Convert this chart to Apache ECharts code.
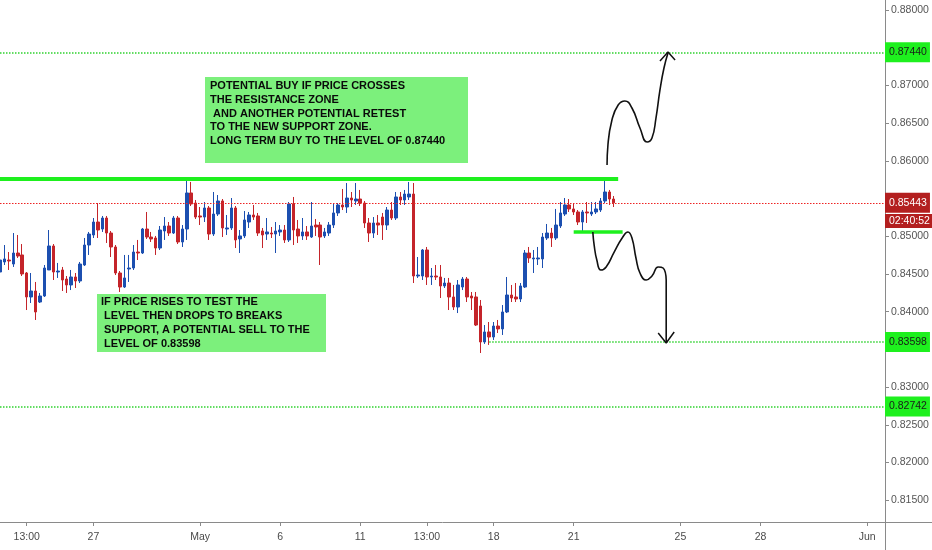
<!DOCTYPE html>
<html>
<head>
<meta charset="utf-8">
<title>Chart</title>
<script src="https://cdn.jsdelivr.net/npm/echarts@6/dist/echarts.min.js"></script>
<style>
html, body { margin: 0; padding: 0; background: #fff; }
#chart { width: 932px; height: 550px; }
</style>
</head>
<body>
<div id="chart"></div>
<script>
// 4h candles, one per slot on the time scale
var opens = [
  0.84526,0.84659,0.84685,0.84632,0.84778,0.84752,0.84513,0.84195,0.84274,0.84128,
  0.84208,0.84553,0.84871,0.84526,0.84553,0.84433,0.84354,0.84460,0.84407,0.84619,
  0.84884,0.85017,0.85189,0.85096,0.85242,0.85043,0.84858,0.84513,0.84327,0.84566,
  0.84579,0.84791,0.84778,0.85096,0.84990,0.84977,0.84844,0.85070,0.85136,0.85043,
  0.85242,0.84924,0.85096,0.85574,0.85441,0.85269,0.85255,0.85375,0.85030,0.85295,
  0.85468,0.85096,0.85110,0.85375,0.84964,0.85004,0.85189,0.85282,0.85269,0.85070,
  0.85030,0.85043,0.85030,0.85057,0.85083,0.84951,0.85428,0.85096,0.85004,0.85057,
  0.84990,0.85149,0.85149,0.85004,0.85043,0.85149,0.85309,0.85415,0.85388,0.85507,
  0.85468,0.85494,0.85441,0.85176,0.85043,0.85176,0.85255,0.85149,0.85348,0.85242,
  0.85521,0.85481,0.85521,0.85560,0.84473,0.84473,0.84818,0.84460,0.84473,0.84460,
  0.84341,0.84380,0.84195,0.84062,0.84327,0.84433,0.84208,0.84195,0.84075,0.83598,
  0.83731,0.83664,0.83810,0.83771,0.83996,0.84221,0.84195,0.84168,0.84327,0.84778,
  0.84699,0.84699,0.84699,0.84977,0.85043,0.84977,0.85136,0.85295,0.85415,0.85362,
  0.85322,0.85189,0.85322,0.85295,0.85322,0.85348,0.85468,0.85587,0.85494
];
var closes = [
  0.84685,0.84699,0.84672,0.84778,0.84738,0.84500,0.84195,0.84274,0.83996,0.84208,
  0.84579,0.84871,0.84526,0.84539,0.84420,0.84354,0.84460,0.84407,0.84632,0.84884,
  0.85030,0.85189,0.85083,0.85242,0.85043,0.84858,0.84513,0.84327,0.84447,0.84579,
  0.84791,0.84778,0.85096,0.84990,0.84964,0.84844,0.85083,0.85136,0.85043,0.85242,
  0.84924,0.85096,0.85574,0.85428,0.85255,0.85255,0.85375,0.85030,0.85295,0.85468,
  0.85110,0.85110,0.85375,0.84951,0.85004,0.85216,0.85282,0.85255,0.85043,0.85017,
  0.85057,0.85030,0.85070,0.85083,0.84951,0.85428,0.85083,0.85004,0.85057,0.85004,
  0.85136,0.85123,0.84990,0.85057,0.85149,0.85309,0.85415,0.85388,0.85507,0.85481,
  0.85494,0.85441,0.85176,0.85043,0.85176,0.85149,0.85149,0.85348,0.85242,0.85521,
  0.85481,0.85560,0.85560,0.84473,0.84486,0.84818,0.84460,0.84473,0.84460,0.84341,
  0.84380,0.84195,0.84062,0.84354,0.84433,0.84195,0.84181,0.83823,0.83598,0.83731,
  0.83664,0.83810,0.83771,0.83996,0.84221,0.84181,0.84168,0.84341,0.84778,0.84712,
  0.84712,0.84712,0.84990,0.85043,0.84977,0.85149,0.85309,0.85415,0.85362,0.85322,
  0.85189,0.85322,0.85309,0.85322,0.85362,0.85468,0.85587,0.85494,0.85443
];
var lows = [
  0.84513,0.84619,0.84553,0.84593,0.84712,0.84473,0.84022,0.84115,0.83890,0.84115,
  0.84195,0.84553,0.84420,0.84447,0.84274,0.84248,0.84287,0.84314,0.84380,0.84606,
  0.84752,0.84977,0.84977,0.85057,0.84911,0.84725,0.84486,0.84261,0.84314,0.84394,
  0.84553,0.84685,0.84765,0.84964,0.84924,0.84752,0.84818,0.84951,0.85004,0.85030,
  0.84897,0.84858,0.84951,0.85401,0.85229,0.85149,0.85189,0.84951,0.85004,0.85269,
  0.84990,0.85017,0.85083,0.84844,0.84778,0.84977,0.85110,0.85216,0.85004,0.84844,
  0.84951,0.84977,0.84778,0.85004,0.84911,0.84924,0.84884,0.84911,0.84951,0.84951,
  0.84977,0.85004,0.84619,0.84977,0.85004,0.85110,0.85269,0.85348,0.85309,0.85388,
  0.85415,0.85401,0.85110,0.84924,0.84977,0.85017,0.84951,0.85083,0.85216,0.85216,
  0.85415,0.85415,0.85481,0.84380,0.84447,0.84420,0.84354,0.84354,0.84420,0.84181,
  0.84314,0.84022,0.84022,0.83982,0.84287,0.84128,0.84022,0.83810,0.83452,0.83572,
  0.83559,0.83625,0.83717,0.83691,0.83982,0.84128,0.84128,0.84128,0.84314,0.84646,
  0.84513,0.84619,0.84579,0.84951,0.84858,0.84951,0.85110,0.85269,0.85322,0.85282,
  0.85149,0.85070,0.85176,0.85269,0.85295,0.85322,0.85441,0.85415,0.85388
];
var highs = [
  0.84752,0.84884,0.84791,0.85043,0.85017,0.84897,0.84526,0.84513,0.84394,0.84248,
  0.84619,0.85083,0.84897,0.84646,0.84593,0.84473,0.84553,0.84513,0.84659,0.84977,
  0.85057,0.85242,0.85441,0.85269,0.85269,0.85070,0.84884,0.84539,0.84752,0.84752,
  0.84884,0.84951,0.85110,0.85322,0.85057,0.85004,0.85136,0.85255,0.85189,0.85269,
  0.85269,0.85149,0.85760,0.85720,0.85481,0.85388,0.85454,0.85401,0.85587,0.85547,
  0.85494,0.85282,0.85507,0.85401,0.85083,0.85335,0.85322,0.85415,0.85309,0.85110,
  0.85242,0.85123,0.85189,0.85149,0.85149,0.85454,0.85521,0.85216,0.85242,0.85136,
  0.85454,0.85229,0.85189,0.85110,0.85189,0.85441,0.85441,0.85627,0.85706,0.85587,
  0.85706,0.85614,0.85468,0.85242,0.85255,0.85282,0.85309,0.85388,0.85454,0.85587,
  0.85587,0.85614,0.85720,0.85706,0.84725,0.84831,0.84858,0.84579,0.84619,0.84619,
  0.84447,0.84447,0.84354,0.84420,0.84460,0.84460,0.84261,0.84261,0.84155,0.83823,
  0.83863,0.83863,0.83890,0.84088,0.84460,0.84354,0.84380,0.84380,0.84818,0.84858,
  0.84818,0.84858,0.85043,0.85163,0.85110,0.85362,0.85454,0.85507,0.85494,0.85441,
  0.85348,0.85348,0.85454,0.85454,0.85454,0.85507,0.85760,0.85614,0.85534
];

// time scale: 200 slots, labelled ones below
var slotCount = 200;
var tickSlots = [6, 21, 45, 63, 81, 96, 111, 129, 153, 171, 195];
var tickLabels = ['13:00', '27', 'May', '6', '11', '13:00', '18', '21', '25', '28', 'Jun'];

var priceTicks = [0.815, 0.82, 0.825, 0.83, 0.835, 0.84, 0.845, 0.85, 0.855, 0.86, 0.865, 0.87, 0.875, 0.88];
var priceMin = 0.81211, priceMax = 0.88133;

// levels
var lastPrice = 0.85443;
var countdown = '02:40:52';
var countdownLevel = 0.85203;
var targetHigh = 0.87440;
var targetLow = 0.83598;
var lowerLevel = 0.82742;
var resistance = 0.85758;
var support = 0.85057;

// hand drawn scenario paths (slot, price)
var buyPathSlot = [136.5, 136.7, 137.6, 139.0, 140.5, 142.1, 143.9, 145.5, 146.6, 147.5, 148.4, 149.3, 150.2];
var buyPathPrice = [0.85945, 0.86210, 0.86542, 0.86741, 0.86794, 0.86701, 0.86436, 0.86250, 0.86303, 0.86568, 0.86940, 0.87231, 0.87430];
var buyHeadSlot = [148.4, 150.2, 151.8];
var buyHeadPrice = [0.87324, 0.87443, 0.87337];
var sellPathSlot = [133.3, 133.6, 134.2, 135.1, 136.3, 138.1, 139.9, 141.2, 142.1, 143.0, 143.9, 145.3, 146.6, 148.0, 149.1, 149.8];
var sellPathPrice = [0.85057, 0.84884, 0.84685, 0.84553, 0.84593, 0.84791, 0.84977, 0.85057, 0.84977, 0.84712, 0.84513, 0.84420, 0.84473, 0.84593, 0.84579, 0.84420];
var sellShaftSlot = [149.8, 149.8];
var sellShaftPrice = [0.84420, 0.83598];
var sellHeadSlot = [148.0, 149.8, 151.6];
var sellHeadPrice = [0.83717, 0.83585, 0.83731];

var noteBuy = 'POTENTIAL BUY IF PRICE CROSSES\nTHE RESISTANCE ZONE\n AND ANOTHER POTENTIAL RETEST\nTO THE NEW SUPPORT ZONE.\nLONG TERM BUY TO THE LEVEL OF 0.87440';
var noteSell = 'IF PRICE RISES TO TEST THE\n LEVEL THEN DROPS TO BREAKS\n SUPPORT, A POTENTIAL SELL TO THE\n LEVEL OF 0.83598';

var blue = '#1c4fb0', red = '#c4242a', green = '#1ef01e', dotGreen = '#2fd22f';
var axisFont = "'Liberation Sans', Arial, sans-serif";
var noteFont = "bold 11px 'Liberation Sans', Arial, sans-serif";

var slots = [];
for (var s = 0; s < slotCount; s++) slots.push(String(s));

var candles = [];
for (var i = 0; i < opens.length; i++) {
  candles.push([opens[i], closes[i], lows[i], highs[i]]);
}

function pairs(xs, ys) {
  var out = [];
  for (var k = 0; k < xs.length; k++) out.push([xs[k], ys[k]]);
  return out;
}

function tagLabel(bg, fg, text, pad) {
  return {
    show: true, position: 'end', distance: 0,
    backgroundColor: bg, color: fg, padding: pad || [5, 3, 4, 4],
    fontFamily: axisFont, fontSize: 10.5,
    formatter: text
  };
}

function pathSeries(xs, ys, smooth, width) {
  return {
    type: 'line', xAxisIndex: 1, data: pairs(xs, ys),
    smooth: smooth, symbol: 'none', silent: true,
    lineStyle: { color: '#111', width: width }, z: 5
  };
}

var chart = echarts.init(document.getElementById('chart'));
var option = {
  animation: false,
  backgroundColor: '#ffffff',
  grid: { left: 0, right: 47, top: 0, bottom: 28, outerBoundsMode: 'none', containLabel: false },
  xAxis: [{
    type: 'category',
    data: slots,
    boundaryGap: false,
    axisLine: { onZero: false, lineStyle: { color: '#8a8a8a', width: 1 } },
    axisTick: {
      show: true, length: 4, lineStyle: { color: '#8a8a8a' },
      interval: function (idx) { return tickSlots.indexOf(idx) >= 0; }
    },
    axisLabel: {
      color: '#4a4a4a', fontSize: 10.5, fontFamily: axisFont, margin: 10,
      interval: function (idx) { return tickSlots.indexOf(idx) >= 0; },
      formatter: function (v, idx) {
        var p = tickSlots.indexOf(idx);
        return p >= 0 ? tickLabels[p] : '';
      }
    },
    splitLine: { show: false }
  }, {
    type: 'value', min: 0, max: slotCount - 1, show: false
  }],
  yAxis: {
    type: 'value',
    position: 'right',
    min: priceMin,
    max: priceMax,
    axisLine: { show: true, onZero: false, lineStyle: { color: '#8a8a8a', width: 1 } },
    axisTick: { show: true, length: 4, customValues: priceTicks, lineStyle: { color: '#8a8a8a' } },
    axisLabel: {
      color: '#555', fontSize: 10.5, fontFamily: axisFont, margin: 6,
      customValues: priceTicks,
      formatter: function (v) { return v.toFixed(5); }
    },
    splitLine: { show: false }
  },
  series: [{
    type: 'candlestick',
    data: candles,
    barWidth: 3,
    itemStyle: {
      color: blue, color0: red,
      borderColor: blue, borderColor0: red, borderWidth: 1
    },
    markLine: {
      silent: true,
      precision: 5,
      symbol: ['none', 'none'],
      data: [
        { yAxis: targetHigh, lineStyle: { color: dotGreen, type: 'dotted', width: 1.5 },
          label: tagLabel(green, '#1a1a1a', targetHigh.toFixed(5)) },
        { yAxis: lowerLevel, lineStyle: { color: dotGreen, type: 'dotted', width: 1.5 },
          label: tagLabel(green, '#1a1a1a', lowerLevel.toFixed(5)) },
        [{ xAxis: 110, yAxis: targetLow, lineStyle: { color: dotGreen, type: 'dotted', width: 1.5 },
           label: tagLabel(green, '#1a1a1a', targetLow.toFixed(5)) },
         { xAxis: slotCount - 1, yAxis: targetLow }],
        { yAxis: lastPrice, lineStyle: { color: '#ee2222', type: [1.5, 1.5], width: 1.2 },
          label: tagLabel('#b31f1f', '#ffffff', lastPrice.toFixed(5)) },
        { yAxis: countdownLevel, lineStyle: { color: 'rgba(0,0,0,0)', width: 0 },
          label: tagLabel('#b31f1f', '#ffffff', countdown, [2, 3, 1, 4]) },
        [{ xAxis: 0, yAxis: resistance, lineStyle: { color: green, type: 'solid', width: 4 }, label: { show: false } },
         { xAxis: 139, yAxis: resistance }],
        [{ xAxis: 129, yAxis: support, lineStyle: { color: green, type: 'solid', width: 3.5 }, label: { show: false } },
         { xAxis: 140, yAxis: support }]
      ]
    }
  },
  pathSeries(buyPathSlot, buyPathPrice, 0.5, 1.6),
  pathSeries(buyHeadSlot, buyHeadPrice, false, 1.5),
  pathSeries(sellPathSlot, sellPathPrice, 0.5, 1.6),
  pathSeries(sellShaftSlot, sellShaftPrice, false, 1.6),
  pathSeries(sellHeadSlot, sellHeadPrice, false, 1.5)
  ],
  graphic: [
    { type: 'line', shape: { x1: 885.5, y1: 522, x2: 885.5, y2: 550 }, style: { stroke: '#8a8a8a', lineWidth: 1 } },
    { type: 'line', shape: { x1: 885, y1: 522.5, x2: 932, y2: 522.5 }, style: { stroke: '#8a8a8a', lineWidth: 1 } },
    { type: 'rect', shape: { x: 205, y: 77, width: 263, height: 86 }, style: { fill: '#7cf07c' }, z: 10 },
    { type: 'text', x: 210, y: 79, z: 11,
      style: { text: noteBuy, fill: '#0a0a0a', font: noteFont, lineHeight: 13.8 } },
    { type: 'rect', shape: { x: 97, y: 294, width: 229, height: 58 }, style: { fill: '#7cf07c' }, z: 10 },
    { type: 'text', x: 101, y: 295, z: 11,
      style: { text: noteSell, fill: '#0a0a0a', font: noteFont, lineHeight: 14 } }
  ]
};
chart.setOption(option);
</script>
</body>
</html>
